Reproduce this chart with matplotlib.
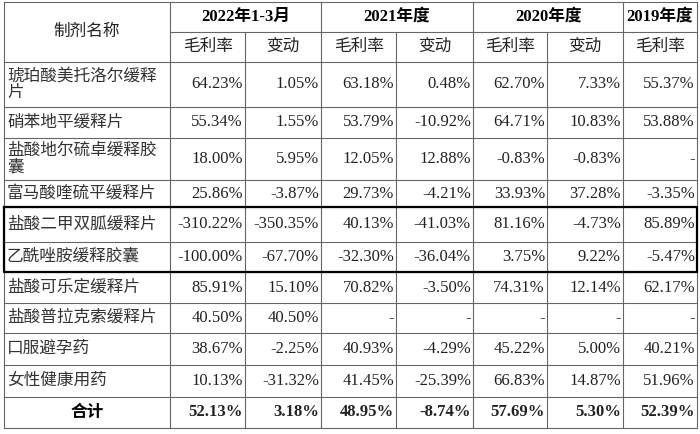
import matplotlib
matplotlib.use("Agg")
import matplotlib.pyplot as plt

names = ["琥珀酸美托洛尔缓释\n片", "硝苯地平缓释片", "盐酸地尔硫卓缓释胶\n囊", "富马酸喹硫平缓释片",
         "盐酸二甲双胍缓释片", "乙酰唑胺缓释胶囊", "盐酸可乐定缓释片", "盐酸普拉克索缓释片",
         "口服避孕药", "女性健康用药", "合计"]
m2022 = ["64.23%", "55.34%", "18.00%", "25.86%", "-310.22%", "-100.00%", "85.91%", "40.50%", "38.67%", "10.13%", "52.13%"]
c2022 = ["1.05%", "1.55%", "5.95%", "-3.87%", "-350.35%", "-67.70%", "15.10%", "40.50%", "-2.25%", "-31.32%", "3.18%"]
m2021 = ["63.18%", "53.79%", "12.05%", "29.73%", "40.13%", "-32.30%", "70.82%", "-", "40.93%", "41.45%", "48.95%"]
c2021 = ["0.48%", "-10.92%", "12.88%", "-4.21%", "-41.03%", "-36.04%", "-3.50%", "-", "-4.29%", "-25.39%", "-8.74%"]
m2020 = ["62.70%", "64.71%", "-0.83%", "33.93%", "81.16%", "3.75%", "74.31%", "-", "45.22%", "66.83%", "57.69%"]
c2020 = ["7.33%", "10.83%", "-0.83%", "37.28%", "-4.73%", "9.22%", "12.14%", "-", "5.00%", "14.87%", "5.30%"]
m2019 = ["55.37%", "53.88%", "-", "-3.35%", "85.89%", "-5.47%", "62.17%", "-", "40.21%", "51.96%", "52.39%"]
years = ["2022年1-3月", "2021年度", "2020年度", "2019年度"]
sub = ["毛利率", "变动", "毛利率", "变动", "毛利率", "变动", "毛利率"]
head0 = "制剂名称"

xs = [4, 170, 245, 321, 396, 473, 547, 623, 697]
ys = [2, 32, 62, 107, 138, 180, 207, 242, 272, 303, 333, 365, 397, 428]

fig = plt.figure(figsize=(7, 4.34), dpi=100)
ax = fig.add_axes([0, 0, 1, 1])
ax.set_xlim(0, 700); ax.set_ylim(434, 0); ax.axis("off")
fam = ["Liberation Serif", "Noto Sans CJK SC"]
fs = 12
lc = "#666666"

ax.plot([xs[0], xs[-1]], [ys[0], ys[0]], color=lc, lw=0.8)
ax.plot([xs[1], xs[-1]], [ys[1], ys[1]], color=lc, lw=0.8)
for y in ys[2:]:
    ax.plot([xs[0], xs[-1]], [y, y], color=lc, lw=0.8)
for i, x in enumerate(xs):
    if i in (2, 4, 6):
        ax.plot([x, x], [ys[1], ys[-1]], color=lc, lw=0.8)
    else:
        ax.plot([x, x], [ys[0], ys[-1]], color=lc, lw=0.8)
ax.plot([xs[0], xs[-1], xs[-1], xs[0], xs[0]], [ys[6], ys[6], ys[8], ys[8], ys[6]], color="black", lw=1.6)

ax.text((xs[0] + xs[1]) / 2, (ys[0] + ys[2]) / 2, head0, ha="center", va="center", fontsize=fs, family=fam, color="#222222")
spans = [(1, 3), (3, 5), (5, 7), (7, 8)]
for (a, b), t in zip(spans, years):
    ax.text((xs[a] + xs[b]) / 2, (ys[0] + ys[1]) / 2, t, ha="center", va="center", fontsize=fs, family=fam, weight="bold")
for j, t in enumerate(sub):
    ax.text((xs[j + 1] + xs[j + 2]) / 2, (ys[1] + ys[2]) / 2, t, ha="center", va="center", fontsize=fs, family=fam, color="#222222")

cols = [m2022, c2022, m2021, c2021, m2020, c2020, m2019]
n = len(names)
for i in range(n):
    yc = (ys[i + 2] + ys[i + 3]) / 2
    last = i == n - 1
    if last:
        ax.text((xs[0] + xs[1]) / 2, yc, names[i], ha="center", va="center", fontsize=fs, family=fam, weight="bold")
    else:
        ax.text(xs[0] + 3, yc, names[i], ha="left", va="center", fontsize=fs, family=fam, linespacing=1.05, color="#333333")
    for j, col in enumerate(cols):
        ax.text(xs[j + 2] - 2, yc, col[i], ha="right", va="center", fontsize=fs, family=fam,
                weight="bold" if last else "normal", color="#222222")

fig.savefig("out.png", dpi=100)
